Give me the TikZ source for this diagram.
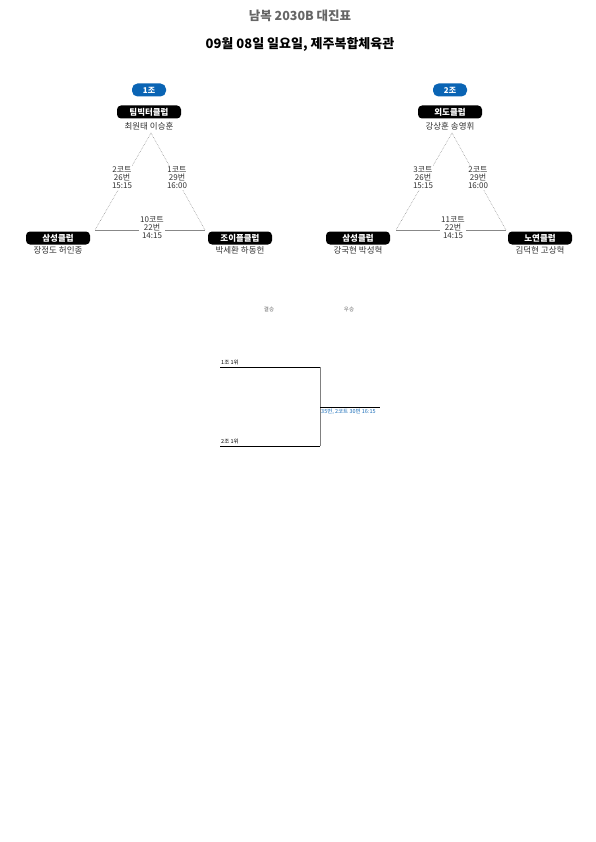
\documentclass[tikz,border=0pt]{standalone}
\usepackage{fontspec}
\setmainfont{Noto Sans CJK KR}
\definecolor{badgeblue}{HTML}{0A64B4}
\definecolor{titlegray}{HTML}{666666}
\definecolor{linegray}{HTML}{888888}
\definecolor{txt}{HTML}{333333}
\definecolor{linkblue}{HTML}{1A6DB8}
\tikzset{
  badge/.style={fill=badgeblue, text=white, rounded corners=5.5pt, minimum width=34pt, minimum height=13pt, inner sep=0pt, font=\fontsize{8}{8}\selectfont\bfseries},
  club/.style={fill=black, text=white, rounded corners=4pt, minimum width=64pt, minimum height=13pt, inner sep=0pt, font=\fontsize{8.5}{9}\selectfont\bfseries},
  names/.style={text=txt, inner sep=0pt, font=\fontsize{8.5}{9}\selectfont},
  matchlbl/.style={text=txt, fill=white, inner sep=1pt, align=center, font=\fontsize{8}{8}\selectfont},
  sideline/.style={draw=linegray, line width=0.5pt, dash pattern=on 0.6pt off 1pt},
  baseline/.style={draw=linegray, line width=0.5pt},
  small/.style={inner sep=0pt, font=\fontsize{5.5}{5.5}\selectfont},
  brk/.style={draw=black, line width=0.6pt},
}
\begin{document}
\begin{tikzpicture}[x=1pt,y=-1pt]
\useasboundingbox (0,0) rectangle (595,842);
\node[text=titlegray, font=\fontsize{12.5}{14}\selectfont\bfseries] (title) at (300,16) {남복 2030B 대진표};
\node[text=black, font=\fontsize{13}{15}\selectfont\bfseries] (sub) at (300,44) {09월 08일 일요일, 제주복합체육관};

% Group 1
\node[badge] (b1) at (149,90) {1조};
\node[club] (t1) at (149,112) {팀빅터클럽};
\node[names] (t1n) at (149,126) {최원태 이승훈};
\coordinate (a1) at (151,133);
\coordinate (l1) at (95,230);
\coordinate (r1) at (205,230);
\draw[sideline] (a1) -- (l1);
\draw[sideline] (a1) -- (r1);
\draw[baseline] (l1) -- (r1);
\node[matchlbl] (m1a) at (122,178) {2코트\\26번\\15:15};
\node[matchlbl] (m1b) at (177,178) {1코트\\29번\\16:00};
\node[matchlbl] (m1c) at (152,228) {10코트\\22번\\14:15};
\node[club] (c1l) at (58,238) {삼성클럽};
\node[names] (c1ln) at (58,250) {장정도 허인종};
\node[club] (c1r) at (240,238) {조이플클럽};
\node[names] (c1rn) at (240,250) {박세환 하동헌};

% Group 2
\node[badge] (b2) at (450,90) {2조};
\node[club] (t2) at (450,112) {외도클럽};
\node[names] (t2n) at (450,126) {강상훈 송영휘};
\coordinate (a2) at (452,133);
\coordinate (l2) at (396,230);
\coordinate (r2) at (506,230);
\draw[sideline] (a2) -- (l2);
\draw[sideline] (a2) -- (r2);
\draw[baseline] (l2) -- (r2);
\node[matchlbl] (m2a) at (423,178) {3코트\\26번\\15:15};
\node[matchlbl] (m2b) at (478,178) {2코트\\29번\\16:00};
\node[matchlbl] (m2c) at (453,228) {11코트\\22번\\14:15};
\node[club] (c2l) at (358,238) {삼성클럽};
\node[names] (c2ln) at (358,250) {강국현 박성혁};
\node[club] (c2r) at (540,238) {노연클럽};
\node[names] (c2rn) at (540,250) {김덕현 고상혁};

% Bracket
\node[small, text=titlegray] (fin) at (269,309) {결승};
\node[small, text=titlegray] (win) at (349,309) {우승};
\coordinate (p1) at (220,367);
\coordinate (p2) at (320,367);
\coordinate (p3) at (320,446);
\coordinate (p4) at (220,446);
\coordinate (q1) at (320,407);
\coordinate (q2) at (380,407);
\draw[brk] (p1) -- (p2);
\draw[brk] (p4) -- (p3);
\draw[draw=gray, line width=1pt] (p2) -- (p3);
\draw[brk] (q1) -- (q2);
\node[small, anchor=south west, text=black] (s1) at (221,365.5) {1조 1위};
\node[small, anchor=south west, text=black] (s2) at (221,444.5) {2조 1위};
\node[small, anchor=north west, text=linkblue] (res) at (321,409) {35번, 2코트 30번 16:15};
\end{tikzpicture}
\end{document}
